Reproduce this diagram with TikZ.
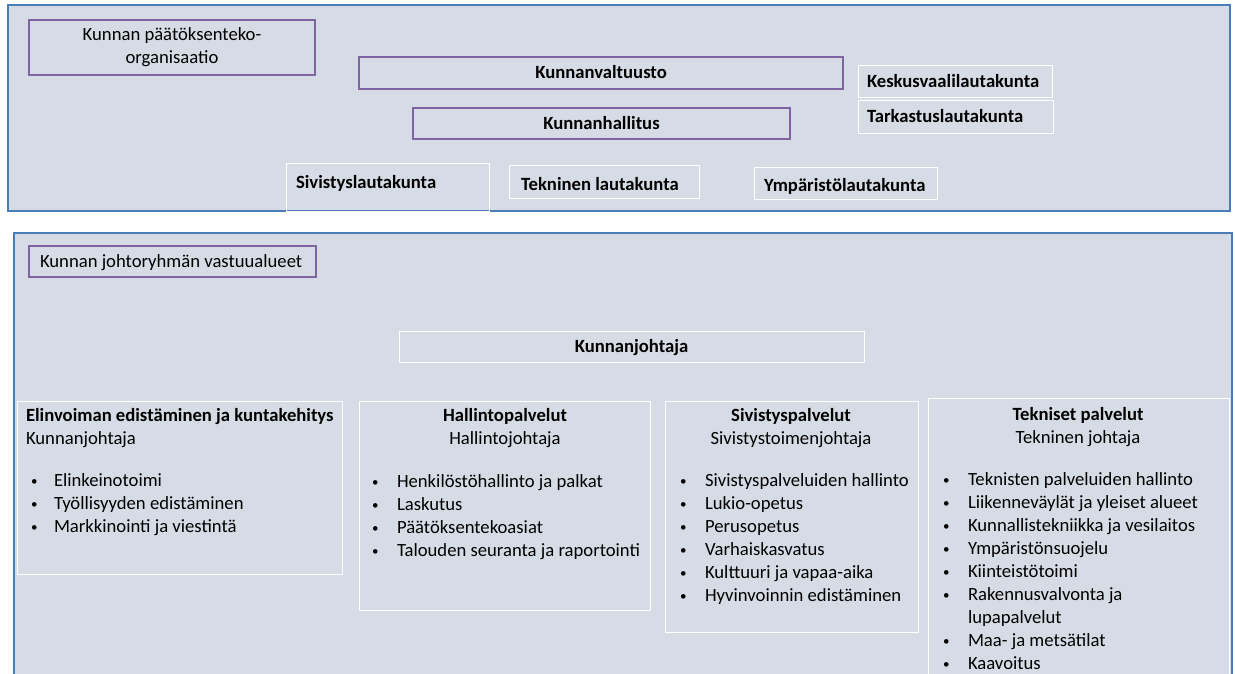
\documentclass[tikz,border=0pt]{standalone}
\usepackage{fontspec}
\setmainfont{Carlito}
\definecolor{panelfill}{HTML}{D6DCE5}
\definecolor{panelline}{HTML}{4A7DB5}
\definecolor{boxpurple}{HTML}{8064A2}
\begin{document}
\begin{tikzpicture}[x=1pt,y=-1pt,
  every node/.style={inner sep=0pt, outer sep=0pt},
  panel/.style={fill=panelfill, draw=panelline, line width=1.2pt, anchor=north west},
  pbox/.style={draw=boxpurple, line width=1.2pt, anchor=north west},
  wbox/.style={draw=white, line width=1pt, anchor=north west},
  tl/.style={anchor=base west, font=\fontsize{18.67}{22.8}\selectfont},
  tc/.style={anchor=base, font=\fontsize{18.67}{22.8}\selectfont},
  tlb/.style={tl, font=\fontsize{18.67}{22.8}\selectfont\bfseries},
  tcb/.style={tc, font=\fontsize{18.67}{22.8}\selectfont\bfseries},
  bul/.style={anchor=base west, font=\fontsize{13}{15}\selectfont}]
\useasboundingbox (0,0) rectangle (1235,674);
\fill[white] (0,0) rectangle (1235,674);

% ---------- top panel ----------
\node[panel, minimum width=1222pt, minimum height=206pt] (toppanel) at (8,5) {};
\node[pbox, minimum width=286pt, minimum height=55pt] (orgbox) at (29,20) {};
\node[tc] (org1) at (172,41) {Kunnan päätöksenteko-};
\node[tc] (org2) at (172,64) {organisaatio};

\node[pbox, minimum width=484pt, minimum height=32pt] (valtbox) at (359,57) {};
\node[tcb] (valt) at (601,79) {Kunnanvaltuusto};
\node[pbox, minimum width=377pt, minimum height=31pt] (hallbox) at (413,108) {};
\node[tcb] (hall) at (601.5,130) {Kunnanhallitus};

\node[wbox, minimum width=194pt, minimum height=32pt] (keskbox) at (858,66) {};
\node[tlb] (kesk) at (867,88) {Keskusvaalilautakunta};
\node[wbox, minimum width=195pt, minimum height=33pt] (tarkbox) at (858,101) {};
\node[tlb] (tark) at (867,123) {Tarkastuslautakunta};

\node[wbox, minimum width=203pt, minimum height=47pt] (sivlbox) at (286,164) {};
\node[tlb] (sivl) at (296,189) {Sivistyslautakunta};
\node[wbox, minimum width=190pt, minimum height=33pt] (teklbox) at (509,166) {};
\node[tlb] (tekl) at (521,191) {Tekninen lautakunta};
\node[wbox, minimum width=183pt, minimum height=32pt] (ymplbox) at (754,168) {};
\node[tlb] (ympl) at (764,192) {Ympäristölautakunta};

% ---------- bottom panel ----------
\node[anchor=north west, fill=panelfill, minimum width=1218pt, minimum height=450pt] (botpanel) at (14,233) {};
\draw[panelline, line width=1.2pt] (botpanel.south west) -- (botpanel.north west) -- (botpanel.north east) -- (botpanel.south east);

\node[pbox, minimum width=287pt, minimum height=31pt] (jrbox) at (29,246) {};
\node[tl] (jr) at (40,267) {Kunnan johtoryhmän vastuualueet};

\node[wbox, minimum width=465pt, minimum height=31pt] (kjbox) at (399,331) {};
\node[tcb] (kj) at (631.5,352) {Kunnanjohtaja};

% Elinvoima
\node[wbox, minimum width=325pt, minimum height=173pt] (elbox) at (17,401) {};
\node[tlb] (elt) at (26,421) {Elinvoiman edistäminen ja kuntakehitys};
\node[tl] (els) at (26,444) {Kunnanjohtaja};
\foreach \txt [count=\i] in {Elinkeinotoimi, Työllisyyden edistäminen, Markkinointi ja viestintä} {
  \node[bul] (elb\i) at (31,{485+23*(\i-1)}) {•};
  \node[tl] (eli\i) at (54,{486+23*(\i-1)}) {\txt};
}

% Hallintopalvelut
\node[wbox, minimum width=291pt, minimum height=209pt] (habox) at (359,401) {};
\node[tcb] (hat) at (505,421) {Hallintopalvelut};
\node[tc] (has) at (505,444) {Hallintojohtaja};
\foreach \txt [count=\i] in {Henkilöstöhallinto ja palkat, Laskutus, Päätöksentekoasiat, Talouden seuranta ja raportointi} {
  \node[bul] (hab\i) at (372,{486+23*(\i-1)}) {•};
  \node[tl] (hai\i) at (397,{487+23*(\i-1)}) {\txt};
}

% Sivistyspalvelut
\node[wbox, minimum width=253pt, minimum height=231pt] (sibox) at (665,401) {};
\node[tcb] (sit) at (791,421) {Sivistyspalvelut};
\node[tc] (sis) at (791,444) {Sivistystoimenjohtaja};
\foreach \txt [count=\i] in {Sivistyspalveluiden hallinto, Lukio-opetus, Perusopetus, Varhaiskasvatus, Kulttuuri ja vapaa-aika, Hyvinvoinnin edistäminen} {
  \node[bul] (sib\i) at (680,{485+23*(\i-1)}) {•};
  \node[tl] (sii\i) at (705,{486+23*(\i-1)}) {\txt};
}

% Tekniset palvelut
\node[wbox, minimum width=301pt, minimum height=290pt] (tebox) at (928,398) {};
\node[tcb] (tet) at (1078,420) {Tekniset palvelut};
\node[tc] (tes) at (1078,443) {Tekninen johtaja};
\foreach \bl/\txt [count=\i] in {•/Teknisten palveluiden hallinto, •/Liikenneväylät ja yleiset alueet, •/Kunnallistekniikka ja vesilaitos, •/Ympäristönsuojelu, •/Kiinteistötoimi, •/Rakennusvalvonta ja, /lupapalvelut, •/Maa- ja metsätilat, •/Kaavoitus} {
  \node[bul] (teb\i) at (943,{484+23*(\i-1)}) {\bl};
  \node[tl] (tei\i) at (968,{485+23*(\i-1)}) {\txt};
}
\end{tikzpicture}
\end{document}
